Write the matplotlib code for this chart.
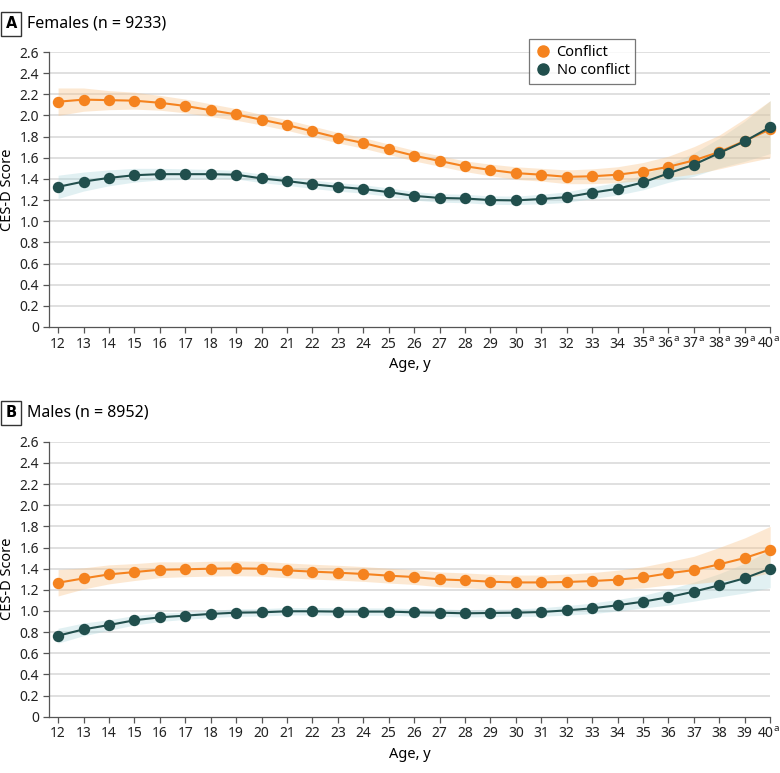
import matplotlib
matplotlib.use("Agg")
import matplotlib.pyplot as plt
import matplotlib.transforms as mtransforms
from matplotlib.lines import Line2D
import numpy as np

FONT = "Noto Sans"
plt.rcParams["font.family"] = [FONT, "DejaVu Sans"]
plt.rcParams["mathtext.fontset"] = "custom"
plt.rcParams["mathtext.rm"] = FONT

# --- data --------------------------------------------------------------------
ages = list(range(12, 41))

fem_conflict = [2.13, 2.15, 2.145, 2.14, 2.12, 2.09, 2.05, 2.01, 1.96, 1.91,
                1.85, 1.79, 1.74, 1.68, 1.62, 1.57, 1.52, 1.485, 1.455, 1.44,
                1.42, 1.425, 1.44, 1.47, 1.515, 1.575, 1.655, 1.76, 1.87]
fem_conflict_ci = [0.13, 0.11, 0.09, 0.08, 0.07, 0.065, 0.06, 0.055, 0.05, 0.05,
                   0.05, 0.05, 0.05, 0.05, 0.05, 0.05, 0.05, 0.055, 0.06, 0.06,
                   0.065, 0.07, 0.075, 0.085, 0.10, 0.13, 0.16, 0.21, 0.27]
fem_noconf = [1.325, 1.375, 1.41, 1.435, 1.445, 1.445, 1.445, 1.44, 1.405, 1.38,
              1.35, 1.325, 1.305, 1.275, 1.24, 1.22, 1.215, 1.20, 1.197, 1.21,
              1.228, 1.27, 1.307, 1.367, 1.453, 1.535, 1.645, 1.756, 1.89]
fem_noconf_ci = [0.11, 0.09, 0.075, 0.065, 0.055, 0.05, 0.045, 0.04, 0.04, 0.04,
                 0.04, 0.04, 0.04, 0.04, 0.04, 0.04, 0.04, 0.04, 0.04, 0.045,
                 0.05, 0.055, 0.06, 0.07, 0.085, 0.11, 0.14, 0.19, 0.25]

mal_conflict = [1.267, 1.308, 1.346, 1.368, 1.39, 1.394, 1.40, 1.403, 1.40, 1.384,
                1.372, 1.362, 1.35, 1.334, 1.321, 1.299, 1.29, 1.277, 1.27, 1.27,
                1.274, 1.283, 1.296, 1.318, 1.356, 1.387, 1.441, 1.501, 1.58]
mal_conflict_ci = [0.125, 0.10, 0.09, 0.08, 0.075, 0.07, 0.07, 0.07, 0.07, 0.07,
                   0.07, 0.07, 0.07, 0.07, 0.07, 0.07, 0.07, 0.07, 0.07, 0.07,
                   0.075, 0.08, 0.09, 0.10, 0.11, 0.13, 0.16, 0.19, 0.22]
mal_noconf = [0.766, 0.826, 0.867, 0.912, 0.94, 0.956, 0.972, 0.984, 0.987, 0.997,
              0.997, 0.994, 0.994, 0.994, 0.987, 0.984, 0.978, 0.981, 0.984, 0.99,
              1.006, 1.025, 1.054, 1.088, 1.13, 1.183, 1.243, 1.31, 1.40]
mal_noconf_ci = [0.07, 0.06, 0.05, 0.045, 0.04, 0.035, 0.035, 0.035, 0.035, 0.035,
                 0.035, 0.035, 0.035, 0.035, 0.035, 0.035, 0.035, 0.035, 0.035, 0.04,
                 0.045, 0.05, 0.055, 0.06, 0.075, 0.09, 0.11, 0.14, 0.18]

fem_flagged = [35, 36, 37, 38, 39, 40]   # ages with superscript a
mal_flagged = [40]

ORANGE = "#F5831F"
TEAL = "#214F4D"
ORANGE_BAND = "#F9C48A"
TEAL_BAND = "#A9D6DC"
GRID = "#DADADA"
SPINE = "#555555"


def _panel(fig, ax, conf, conf_ci, noconf, noconf_ci, flagged):
    x = np.array(ages)
    c, cc = np.array(conf), np.array(conf_ci)
    n, nc = np.array(noconf), np.array(noconf_ci)
    ax.fill_between(x, n - nc, n + nc, color=TEAL_BAND, alpha=0.35, lw=0, zorder=1)
    ax.fill_between(x, c - cc, c + cc, color=ORANGE_BAND, alpha=0.38, lw=0, zorder=1)
    ax.plot(x, c, "-o", color=ORANGE, lw=1.5, ms=7.2, zorder=3, clip_on=False)
    ax.plot(x, n, "-o", color=TEAL, lw=1.5, ms=7.2, zorder=4, clip_on=False)

    ax.set_xlim(11.63, 40)
    ax.set_ylim(0, 2.6)
    yt = np.arange(0, 2.61, 0.2)
    ax.set_yticks(yt)
    ax.set_yticklabels(["0" if v == 0 else f"{v:.1f}" for v in yt])
    for v in yt[1:]:
        ax.axhline(v, color=GRID, lw=1.2, zorder=0)
    ax.set_xticks(ages)
    ax.set_xticklabels([f"{a}$^{{\\mathrm{{a}}}}$" if a in flagged else str(a)
                        for a in ages])
    ax.tick_params(axis="both", labelsize=10, color=SPINE, length=4, width=0.9,
                   pad=3, labelcolor="#222222")
    # last label sits against the right edge: nudge it left a little
    lab = ax.get_xticklabels()[-1]
    lab.set_transform(lab.get_transform() + mtransforms.ScaledTranslation(
        -2 / 100, 0, fig.dpi_scale_trans))
    for s in ("top", "right"):
        ax.spines[s].set_visible(False)
    for s in ("left", "bottom"):
        ax.spines[s].set_color(SPINE)
        ax.spines[s].set_linewidth(0.9)
    ax.set_xlabel("Age, y", fontsize=10.5, labelpad=4)
    ax.set_ylabel("CES-D Score", fontsize=10.5)
    ax.yaxis.set_label_coords(-0.047, 0.5)


fig = plt.figure(figsize=(7.8, 7.73), dpi=100)
ax_a = fig.add_axes([0.0624, 0.577, 0.925, 0.3557])
ax_b = fig.add_axes([0.0624, 0.0728, 0.925, 0.3557])

_panel(fig, ax_a, fem_conflict, fem_conflict_ci, fem_noconf, fem_noconf_ci,
       fem_flagged)
_panel(fig, ax_b, mal_conflict, mal_conflict_ci, mal_noconf, mal_noconf_ci,
       mal_flagged)

box = dict(boxstyle="square,pad=0.3", fc="white", ec="#333333", lw=1.0)
for yy, letter, title in ((0.969, "A", "Females (n = 9233)"),
                          (0.466, "B", "Males (n = 8952)")):
    fig.text(0.0145, yy, letter, fontsize=10.5, fontweight="bold", ha="center",
             va="center", bbox=box, family=["DejaVu Sans"])
    fig.text(0.035, yy, title, fontsize=11.5, ha="left", va="center")

handles = [
    Line2D([], [], ls="none", marker="o", ms=8, color=ORANGE, label="Conflict"),
    Line2D([], [], ls="none", marker="o", ms=8, color=TEAL, label="No conflict"),
]
leg = fig.legend(handles=handles, loc="upper left", bbox_to_anchor=(0.678, 0.9495),
                 fontsize=10.5, frameon=True, fancybox=False, handletextpad=0.3,
                 borderpad=0.4, labelspacing=0.2, handlelength=1.2,
                 borderaxespad=0)
leg.get_frame().set_edgecolor("#555555")
leg.get_frame().set_linewidth(0.9)

fig.savefig("out.png", dpi=100)
